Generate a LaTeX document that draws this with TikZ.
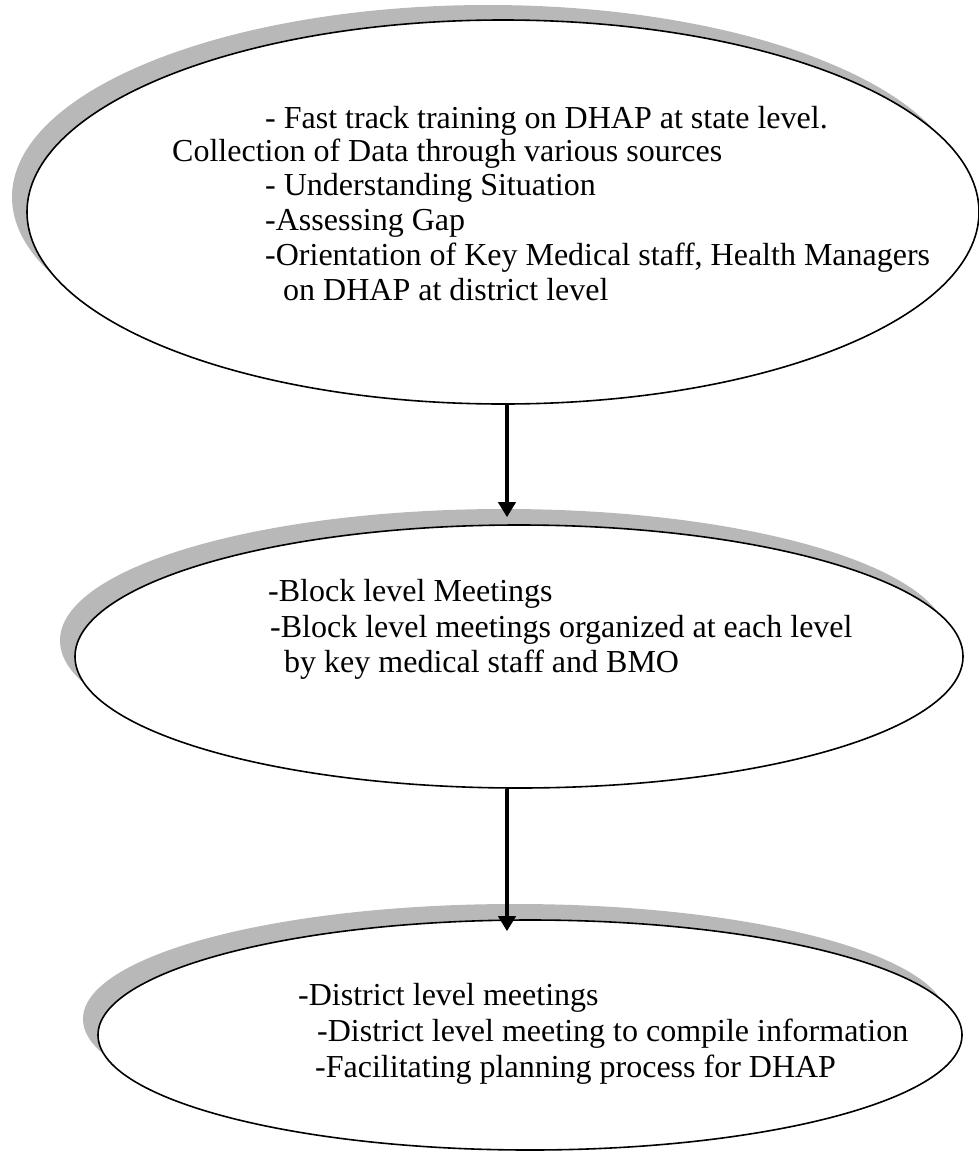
\documentclass[tikz,border=0pt]{standalone}
\usepackage{fontspec}
\setmainfont{Liberation Serif}
\usetikzlibrary{shapes.geometric,arrows.meta}
\begin{document}
\begin{tikzpicture}[x=1pt,y=-1pt,
  bubble/.style={ellipse,draw=black,fill=white,line width=1.6pt,inner sep=0pt},
  bshadow/.style={ellipse,fill=black!28,draw=none,inner sep=0pt},
  txt/.style={anchor=base west,inner sep=0pt,font=\fontsize{32}{36}\selectfont},
  flow/.style={line width=4pt,-{Triangle[width=17pt,length=15pt]}}]
\useasboundingbox (0,0) rectangle (979,1154);
% shadows
\node[bshadow,minimum width=952pt,minimum height=384pt] (s1) at (488,197) {};
\node[bshadow,minimum width=888pt,minimum height=263pt] (s2) at (504,640.5) {};
\node[bshadow,minimum width=864pt,minimum height=230pt] (s3) at (515,1019) {};
% ellipses
\node[bubble,minimum width=952pt,minimum height=384pt] (e1) at (503,212) {};
\node[bubble,minimum width=888pt,minimum height=263pt] (e2) at (519,656.5) {};
\node[bubble,minimum width=864pt,minimum height=230pt] (e3) at (530,1035) {};
% texts
\node[txt] (a1) at (265,128) {- Fast track training on DHAP at state level.};
\node[txt] (a2) at (172,161) {Collection of Data through various sources};
\node[txt] (a3) at (265,195) {- Understanding Situation};
\node[txt] (a4) at (265,230) {-Assessing Gap};
\node[txt] (a5) at (265,265) {-Orientation of Key Medical staff, Health Managers};
\node[txt] (a6) at (283,300) {on DHAP at district level};
\node[txt] (b1) at (268,601) {-Block level Meetings};
\node[txt] (b2) at (270,637) {-Block level meetings organized at each level};
\node[txt] (b3) at (284,672) {by key medical staff and BMO};
\node[txt] (c1) at (298,1005) {-District level meetings};
\node[txt] (c2) at (317,1041) {-District level meeting to compile information};
\node[txt] (c3) at (315,1077) {-Facilitating planning process for DHAP};
% arrows
\coordinate (p1) at ([xshift=4pt]e1.south);
\coordinate (p2) at ([xshift=-12pt]e2.south);
\draw[flow,shorten >=7pt] (p1) -- (p1 |- e2.north);
\draw[flow,shorten >=-12pt] (p2) -- (p2 |- e3.north);
\end{tikzpicture}
\end{document}
